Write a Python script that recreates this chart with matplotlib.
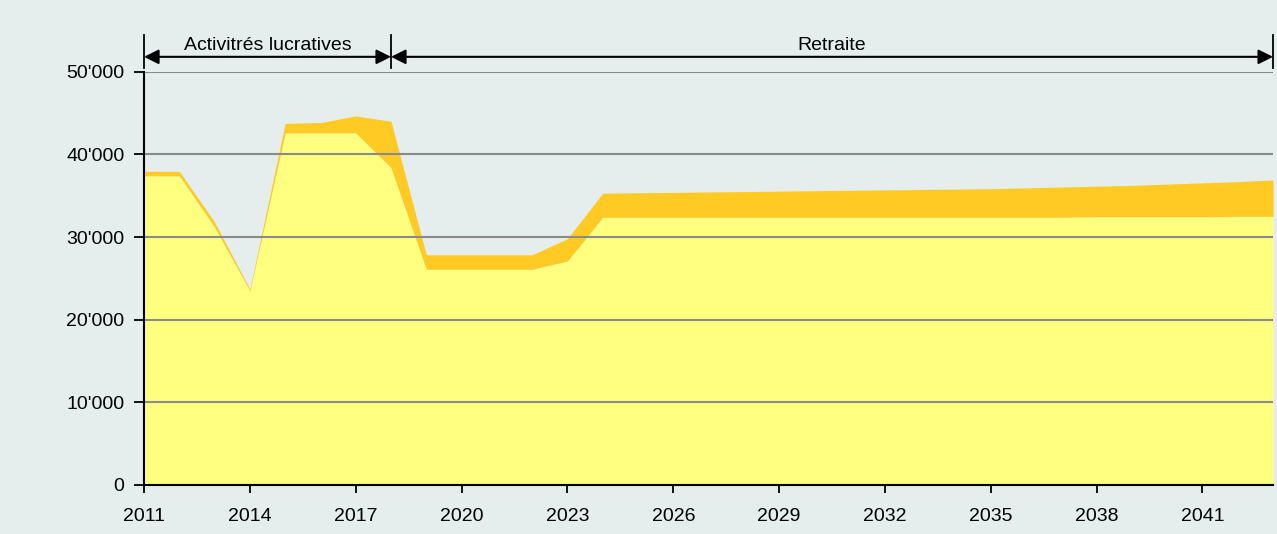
import numpy as np
import matplotlib.pyplot as plt

plt.rcParams["font.family"] = ["Liberation Sans", "DejaVu Sans"]

years = list(range(2011, 2044))
base = [37400, 37400, 31200, 23500, 42600, 42600, 42600, 38400,
        26100, 26100, 26100, 26100, 27100,
        32400, 32400, 32400, 32400, 32400, 32400, 32400, 32400, 32400,
        32400, 32400, 32400, 32400, 32400, 32450, 32450, 32450, 32450,
        32500, 32500]
total = [37950, 37950, 31800, 23700, 43750, 43850, 44650, 44000,
         27850, 27850, 27850, 27850, 29800,
         35300, 35350, 35400, 35450, 35500, 35550, 35600, 35650, 35700,
         35750, 35800, 35850, 35950, 36050, 36150, 36250, 36400, 36550,
         36700, 36900]
ytick_vals = [0, 10000, 20000, 30000, 40000, 50000]
ytick_labels = ["0", "10'000", "20'000", "30'000", "40'000", "50'000"]
xtick_vals = list(range(2011, 2042, 3))
phases = [("Activitrés lucratives", 2011, 2018), ("Retraite", 2018, 2043)]

bg = "#e5eded"
fig = plt.figure(figsize=(12.77, 5.34), dpi=100, facecolor=bg)
ax = fig.add_axes([0.1128, 0.0918, 0.8841, 0.7739])
ax.set_facecolor(bg)

ax.fill_between(years, 0, base, color="#ffff80", lw=0, zorder=1)
ax.fill_between(years, base, total, color="#ffca24", lw=0, zorder=1)

# horizontal gridlines drawn over the areas
for yv in ytick_vals[1:]:
    ax.axhline(yv, color="#8a8a8a", lw=1.5, zorder=2)

ax.set_xlim(2011, 2043)
ax.set_ylim(0, 50000)
ax.set_yticks(ytick_vals)
ax.set_yticklabels(ytick_labels)
ax.set_xticks(xtick_vals)
ax.set_xticklabels([str(y) for y in xtick_vals])
ax.tick_params(labelsize=14, width=1.3, colors="black")
ax.tick_params(axis="x", length=6, pad=10.5)
ax.tick_params(axis="y", length=7, pad=7)

for s in ["top", "right"]:
    ax.spines[s].set_visible(False)
for s in ["left", "bottom"]:
    ax.spines[s].set_linewidth(1.5)
    ax.spines[s].set_zorder(3)

# phase annotations above the plot
arrow_y = 51800
for label, x0, x1 in phases:
    ax.annotate("", xy=(x0, arrow_y), xytext=(x1, arrow_y),
                arrowprops=dict(arrowstyle="<|-|>", color="black", lw=1.5,
                                shrinkA=0, shrinkB=0, mutation_scale=22),
                annotation_clip=False)
    ax.text((x0 + x1) / 2, 53200, label, ha="center", va="center",
            fontsize=14, clip_on=False)
for xv in [2011, 2018, 2043]:
    ax.plot([xv, xv], [50500, 54500], color="black", lw=1.3, clip_on=False)

fig.savefig("out.png", dpi=100, facecolor=bg)
